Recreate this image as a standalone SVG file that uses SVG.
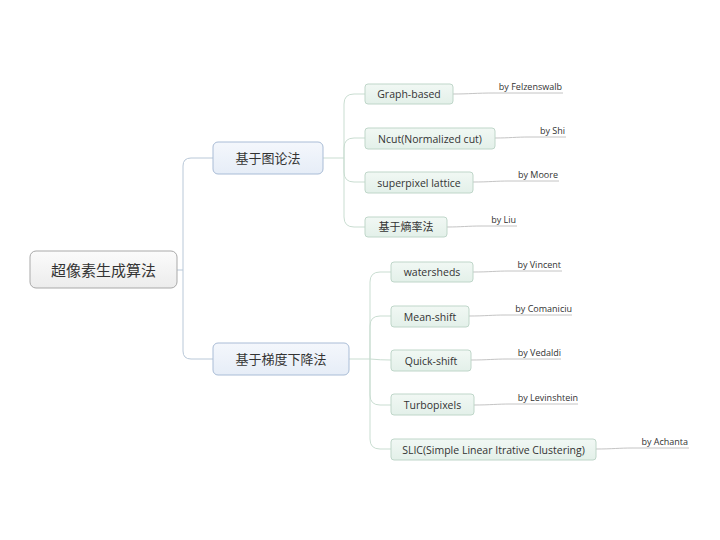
<svg xmlns="http://www.w3.org/2000/svg" width="720" height="540" viewBox="0 0 720 540">
<defs>
<linearGradient id="gRoot" x1="0" y1="0" x2="0" y2="1"><stop offset="0" stop-color="#fbfbfb"/><stop offset="1" stop-color="#ececec"/></linearGradient>
<linearGradient id="gMain" x1="0" y1="0" x2="0" y2="1"><stop offset="0" stop-color="#f4f7fc"/><stop offset="1" stop-color="#e6edf7"/></linearGradient>
<linearGradient id="gSub" x1="0" y1="0" x2="0" y2="1"><stop offset="0" stop-color="#f1f8f4"/><stop offset="1" stop-color="#e3f0e9"/></linearGradient>
</defs>
<style>
.root{fill:url(#gRoot);stroke:#a9a9a9;stroke-width:1}
.main{fill:url(#gMain);stroke:#a9bcd6;stroke-width:1}
.sub{fill:url(#gSub);stroke:#bfd6c9;stroke-width:1}
.c1{fill:none;stroke:#b9c8d8;stroke-width:1}
.c2{fill:none;stroke:#c9ddd1;stroke-width:1}
.ul{fill:none;stroke:#c4c4c4;stroke-width:1}
.cjk{font-family:"Noto Sans CJK SC","Noto Sans",sans-serif;fill:#333;text-anchor:middle}
.en{font-family:"Open Sans","Noto Sans",sans-serif;fill:#333;text-anchor:middle;font-size:10.5px}
.by{font-family:"Open Sans","Noto Sans",sans-serif;fill:#333;text-anchor:end;font-size:9px}
</style>
<rect width="720" height="540" fill="#ffffff"/>
<g id="connectors">
<path class="c1" d="M177 270 H183 V166 Q183 158 191 158 H213"/>
<path class="c1" d="M183 270 V351 Q183 359 191 359 H213"/>
<path class="c2" d="M323 158 H344 V104 Q344 94 354 94 H365"/>
<path class="c2" d="M344 158 V148 Q344 138 354 138 H365"/>
<path class="c2" d="M344 158 V172 Q344 182 354 182 H365"/>
<path class="c2" d="M344 158 V217 Q344 227 354 227 H365"/>
<path class="c2" d="M349 359 H370 V282 Q370 272 380 272 H391"/>
<path class="c2" d="M370 359 V326 Q370 316 380 316 H391"/>
<path class="c2" d="M370 359 Q380 360 391 360"/>
<path class="c2" d="M370 359 V395 Q370 405 380 405 H391"/>
<path class="c2" d="M370 359 V439 Q370 449 380 449 H391"/>
<path class="ul" d="M453 94 C470 94 475 93 495 93 H563"/>
<path class="ul" d="M495 138 C510 138 515 137 530 137 H566"/>
<path class="ul" d="M473 182 C490 182 495 181 510 181 H559"/>
<path class="ul" d="M447 227 C462 227 467 226 482 226 H517"/>
<path class="ul" d="M473 272 C490 272 495 271 510 271 H562"/>
<path class="ul" d="M469 316 C486 316 491 315 506 315 H572"/>
<path class="ul" d="M471 360 C488 360 493 359 508 359 H561"/>
<path class="ul" d="M474 405 C491 405 496 404 511 404 H578"/>
<path class="ul" d="M596 449 C613 449 618 448 633 448 H689"/>
</g>
<g id="root"><rect class="root" x="30" y="251" width="147" height="37" rx="6"/><text class="cjk" x="103.5" y="275.5" font-size="15">超像素生成算法</text></g>
<g id="n-graph"><rect class="main" x="213" y="142" width="110" height="32" rx="5"/><text class="cjk" x="268" y="162.5" font-size="13">基于图论法</text></g>
<g id="n-grad"><rect class="main" x="213" y="343" width="136" height="32" rx="5"/><text class="cjk" x="281" y="363.5" font-size="13">基于梯度下降法</text></g>
<g id="n-gb"><rect class="sub" x="365" y="84" width="88" height="20" rx="3"/><text class="en" x="409" y="98">Graph-based</text><text class="by" x="562" y="90">by Felzenswalb</text></g>
<g id="n-ncut"><rect class="sub" x="365" y="128" width="130" height="21" rx="3"/><text class="en" x="430" y="142.5">Ncut(Normalized cut)</text><text class="by" x="565" y="134">by Shi</text></g>
<g id="n-lattice"><rect class="sub" x="365" y="172" width="108" height="21" rx="3"/><text class="en" x="419" y="186.5">superpixel lattice</text><text class="by" x="558" y="178">by Moore</text></g>
<g id="n-entropy"><rect class="sub" x="365" y="217" width="82" height="20" rx="3"/><text class="cjk" x="406" y="231" font-size="11">基于熵率法</text><text class="by" x="516" y="223">by Liu</text></g>
<g id="n-ws"><rect class="sub" x="391" y="262" width="82" height="20" rx="3"/><text class="en" x="432" y="276">watersheds</text><text class="by" x="561" y="268">by Vincent</text></g>
<g id="n-ms"><rect class="sub" x="391" y="306" width="78" height="21" rx="3"/><text class="en" x="430" y="320.5">Mean-shift</text><text class="by" x="572" y="312">by Comaniciu</text></g>
<g id="n-qs"><rect class="sub" x="391" y="350" width="80" height="21" rx="3"/><text class="en" x="431" y="364.5">Quick-shift</text><text class="by" x="561" y="356">by Vedaldi</text></g>
<g id="n-tp"><rect class="sub" x="391" y="394" width="83" height="21" rx="3"/><text class="en" x="432.5" y="408.5">Turbopixels</text><text class="by" x="578" y="401">by Levinshtein</text></g>
<g id="n-slic"><rect class="sub" x="391" y="439" width="205" height="21" rx="3"/><text class="en" x="493.5" y="453.5">SLIC(Simple Linear Itrative Clustering)</text><text class="by" x="688" y="445">by Achanta</text></g>
</svg>
